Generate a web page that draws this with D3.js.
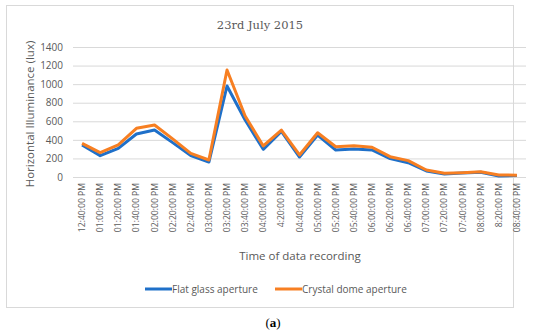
<!DOCTYPE html>
<html>
<head>
<meta charset="utf-8">
<script src="https://cdn.jsdelivr.net/npm/d3@7"></script>
<style>
    body { margin: 0; background: #fff; }
    svg { display: block; }
</style>
</head>
<body>
<div id="chart"></div>
<script>
// time labels on the x axis
let times = ["12:40:00 PM", "01:00:00 PM", "01:20:00 PM", "01:40:00 PM", "02:00:00 PM",
    "02:20:00 PM", "02:40:00 PM", "03:00:00 PM", "03:20:00 PM", "03:40:00 PM",
    "04:00:00 PM", "4:20:00 PM", "04:40:00 PM", "05:00:00 PM", "05:20:00 PM",
    "05:40:00 PM", "06:00:00 PM", "06:20:00 PM", "06:40:00 PM", "07:00:00 PM",
    "07:20:00 PM", "07:40:00 PM", "08:00:00 PM", "8:20:00 PM", "08:40:00 PM"];

// illuminance readings (lux)
let flatGlass = [345, 230, 309, 463, 506, 370, 230, 161, 980, 614,
    298, 490, 215, 452, 291, 301, 291, 199, 154, 65,
    33, 42, 52, 10, 15];
let crystalDome = [363, 262, 345, 524, 560, 410, 255, 183, 1152, 657,
    334, 506, 237, 477, 326, 337, 320, 219, 176, 75,
    40, 47, 57, 22, 20];

let yTicks = [0, 200, 400, 600, 800, 1000, 1200, 1400];

let series = [
    { name: "Flat glass aperture", values: flatGlass, color: "#1f70c9" },
    { name: "Crystal dome aperture", values: crystalDome, color: "#f77f22" }
];

let frame = { width: 550, height: 332 };
let plot = { left: 73, right: 526, top: 47, bottom: 177 };
let grey = "#595959";
let sans = "'Open Sans', 'Noto Sans', sans-serif";

let svg = d3.select("#chart").append("svg")
    .attr("width", frame.width)
    .attr("height", frame.height);

// outer chart border
svg.append("rect")
    .attr("x", 6.5).attr("y", 5.5)
    .attr("width", 507).attr("height", 302)
    .attr("fill", "#fff")
    .attr("stroke", "#d9d9d9");

let x = d3.scaleBand()
    .domain(times)
    .range([plot.left, plot.right]);

let y = d3.scaleLinear()
    .domain([0, 1400])
    .range([plot.bottom, plot.top]);

// gridlines + y labels
let yAxis = svg.append("g")
    .attr("transform", "translate(" + plot.left + ",0)")
    .call(d3.axisLeft(y).tickValues(yTicks).tickFormat(d3.format("d"))
        .tickSize(-(plot.right - plot.left)).tickPadding(10));
yAxis.select(".domain").remove();
yAxis.selectAll(".tick line").attr("stroke", "#d9d9d9").attr("stroke-width", 1);
yAxis.selectAll(".tick text")
    .attr("fill", grey)
    .style("font-family", sans)
    .style("font-size", "10px");

// x axis labels, rotated
let xAxis = svg.append("g")
    .attr("transform", "translate(0," + plot.bottom + ")")
    .call(d3.axisBottom(x).tickSize(0).tickPadding(0));
xAxis.select(".domain").remove();
xAxis.selectAll(".tick text")
    .attr("fill", grey)
    .style("font-family", sans)
    .style("font-size", "8.6px")
    .style("text-anchor", "end")
    .attr("transform", "rotate(-90)")
    .attr("x", -6)
    .attr("y", 0)
    .attr("dy", "0.35em");

// lines
let line = d3.line()
    .x(function (d, i) { return x(times[i]) + x.bandwidth() / 2; })
    .y(function (d) { return y(d); });

series.forEach(function (s) {
    svg.append("path")
        .datum(s.values)
        .attr("d", line)
        .attr("fill", "none")
        .attr("stroke", s.color)
        .attr("stroke-width", 3)
        .attr("stroke-linejoin", "round");
});

// title
svg.append("text")
    .attr("x", 260).attr("y", 29)
    .attr("text-anchor", "middle")
    .attr("fill", grey)
    .style("font-family", "'DejaVu Serif', 'Liberation Serif', serif")
    .style("font-size", "11.5px")
    .text("23rd July 2015");

// axis titles
svg.append("text")
    .attr("transform", "translate(34," + ((plot.top + plot.bottom) / 2 + 2) + ") rotate(-90)")
    .attr("text-anchor", "middle")
    .attr("fill", grey)
    .style("font-family", sans)
    .style("font-size", "11.5px")
    .text("Horizontal Illuminance (lux)");

svg.append("text")
    .attr("x", 300).attr("y", 260)
    .attr("text-anchor", "middle")
    .attr("fill", grey)
    .style("font-family", sans)
    .style("font-size", "11.5px")
    .text("Time of data recording");

// legend
let legendX = [145, 275];
series.forEach(function (s, i) {
    let g = svg.append("g").attr("transform", "translate(" + legendX[i] + ",289)");
    g.append("line")
        .attr("x1", 0).attr("x2", 27)
        .attr("stroke", s.color)
        .attr("stroke-width", 3);
    g.append("text")
        .attr("x", 27).attr("dy", "0.35em")
        .attr("fill", grey)
        .style("font-family", sans)
        .style("font-size", "10px")
        .text(s.name);
});

// caption
let caption = svg.append("text")
    .attr("x", 273).attr("y", 327)
    .attr("text-anchor", "middle")
    .attr("fill", "#000")
    .style("font-family", "'Liberation Serif', serif")
    .style("font-size", "13px");
caption.append("tspan").text("(");
caption.append("tspan").style("font-weight", "bold").text("a");
caption.append("tspan").text(")");
</script>
</body>
</html>
